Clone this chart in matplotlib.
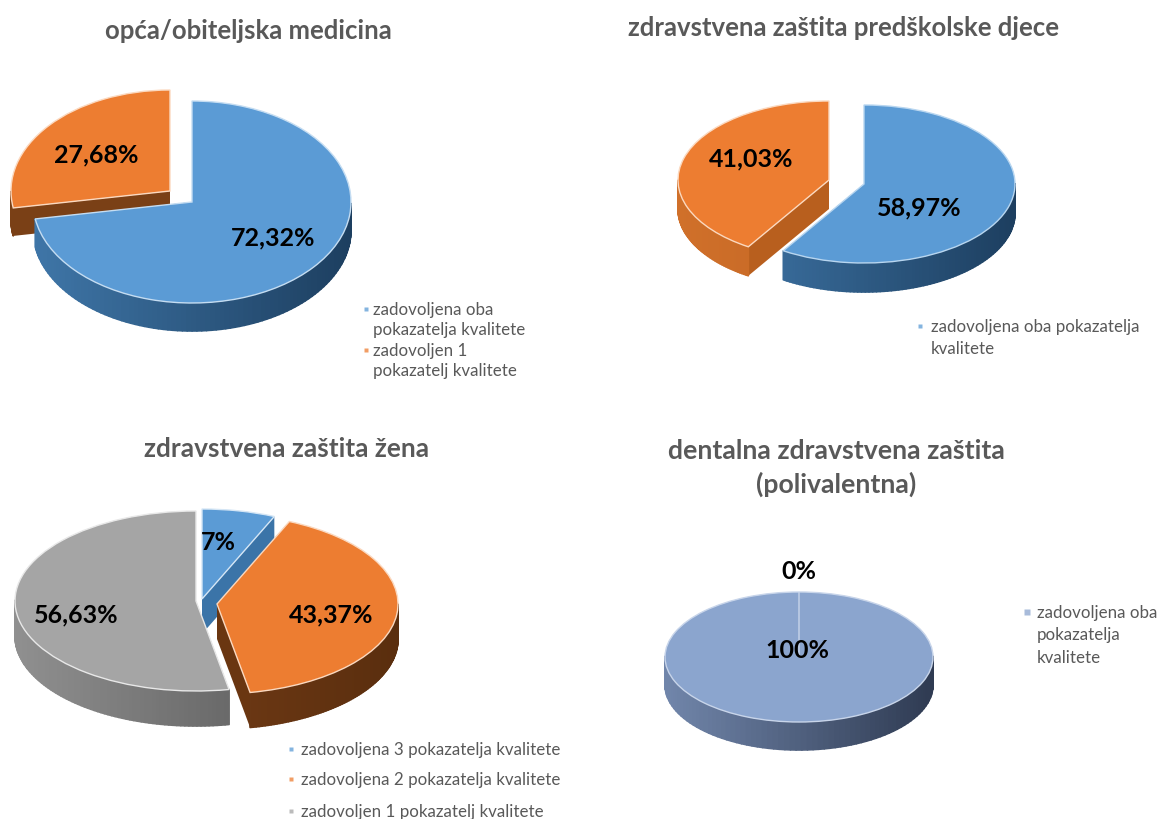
import numpy as np
import matplotlib
matplotlib.use("Agg")
import matplotlib.pyplot as plt
from matplotlib.collections import PolyCollection
from matplotlib.colors import LinearSegmentedColormap

# ---------- data ----------
titles = ["opća/obiteljska medicina", "zdravstvena zaštita predškolske djece",
          "zdravstvena zaštita žena", "dentalna zdravstvena zaštita\n(polivalentna)"]
opca_values = [72.32, 27.68]
opca_labels = ["72,32%", "27,68%"]
opca_legend = ["zadovoljena oba\npokazatelja kvalitete", "zadovoljen 1\npokazatelj kvalitete"]
predskolska_values = [58.97, 41.03]
predskolska_labels = ["58,97%", "41,03%"]
predskolska_legend = ["zadovoljena oba pokazatelja\nkvalitete"]
zene_values = [7, 43.37, 56.63]
zene_labels = ["7%", "43,37%", "56,63%"]
zene_legend = ["zadovoljena 3 pokazatelja kvalitete", "zadovoljena 2 pokazatelja kvalitete",
               "zadovoljen 1 pokazatelj kvalitete"]
dentalna_values = [100, 0]
dentalna_labels = ["100%", "0%"]
dentalna_legend = ["zadovoljena oba\npokazatelja\nkvalitete"]

# ---------- style ----------
W, H = 1163, 820
plt.rcParams["font.family"] = ["Lato", "DejaVu Sans"]
BLUE, ORANGE, GRAY, SLATE = "#5B9BD5", "#ED7D31", "#A5A5A5", "#8BA5CE"
TXT = "#595959"

pies = [
    dict(v=opca_values, cx=192, cy=203, rx=159, ry=101, d=28, order=[1, 0],
         colors=[BLUE, ORANGE], edge=["#C5DDF2", "#FBD9C0"], off=[(0, 0), (-22, -11)],
         wall=[("#3F76A8", "#1D3F60"), ("#7A4016", "#5A2E0E")], cut=["#2F5F8C", "#7A4016"]),
    dict(v=predskolska_values, cx=864, cy=185, rx=151, ry=79, d=29, order=[0, 1],
         colors=[BLUE, ORANGE], edge=["#B8D6F0", "#FBD9C0"], off=[(0, 0), (-35, -4)],
         wall=[("#3F76A8", "#1D3F60"), ("#D0702A", "#B85E1F")], cut=["#2F5F8C", "#B85F1E"]),
    dict(v=zene_values, cx=196, cy=602, rx=181, ry=90, d=35, order=[0, 2, 1],
         colors=[BLUE, ORANGE, GRAY], edge=["#D5E6F5", "#FBD9C0", "#E8E8E8"],
         off=[(6, -2), (21, 3), (0, 0)],
         wall=[("#3F76A8", "#1D3F60"), ("#80431A", "#5A2E0E"), ("#909090", "#4F4F4F")],
         cut=["#3B74A8", "#6A3611", "#707070"]),
    dict(v=dentalna_values, cx=799, cy=658, rx=134, ry=65, d=28, order=[0, 1],
         colors=[SLATE, SLATE], edge=["#C8D5EA", "#C8D5EA"], off=[(0, 0), (0, 0)],
         wall=[("#7186AB", "#2F3B52"), ("#7186AB", "#2F3B52")], cut=["#5A6E90", "#5A6E90"]),
]

fig = plt.figure(figsize=(W / 100, H / 100), dpi=100, facecolor="white")

for p in pies:
    cx, cy, rx, ry, d = p["cx"], p["cy"], p["rx"], p["ry"], p["d"]
    ax = fig.add_axes([(cx - rx) / W, 1 - (cy + ry) / H, 2 * rx / W, 2 * ry / H])
    wedges, _ = ax.pie(p["v"], startangle=90, counterclock=False, colors=p["colors"],
                       wedgeprops=dict(clip_on=False, linewidth=1.0))
    ax.set_aspect("auto")
    ax.set_xlim(-1, 1)
    ax.set_ylim(-1, 1)
    ax.axis("off")
    dz = d / ry
    for rank, i in enumerate(p["order"]):
        w = wedges[i]
        ox, oy = p["off"][i][0] / rx, -p["off"][i][1] / ry
        w.set_center((ox, oy))
        w.set_edgecolor(p["edge"][i])
        z = 10 + 10 * rank
        w.set_zorder(z + 3)
        t1, t2 = np.deg2rad(w.theta1), np.deg2rad(w.theta2)
        # radial cut faces
        if abs((w.theta2 - w.theta1) - 360) > 1e-6:
            for t in (t1, t2):
                px, py = ox + np.cos(t), oy + np.sin(t)
                face = [(ox, oy), (px, py), (px, py - dz), (ox, oy - dz)]
                ax.fill(*zip(*face), color=p["cut"][i], lw=0, zorder=z, clip_on=False)
        # outer wall, lower half only
        th = np.linspace(t1, t2, 150)
        cm = LinearSegmentedColormap.from_list("w", p["wall"][i])
        quads, cols = [], []
        for a, b in zip(th[:-1], th[1:]):
            if np.sin((a + b) / 2) > 0.0:
                continue
            xa, ya, xb, yb = ox + np.cos(a), oy + np.sin(a), ox + np.cos(b), oy + np.sin(b)
            quads.append([(xa, ya), (xb, yb), (xb, yb - dz), (xa, ya - dz)])
            cols.append(cm((np.cos((a + b) / 2) + 1) / 2))
        if quads:
            ax.add_collection(PolyCollection(quads, facecolors=cols, edgecolors=cols,
                                             linewidths=1.2, zorder=z + 1, clip_on=False),
                              autolim=False)

# ---------- text overlay in pixel coordinates ----------
ov = fig.add_axes([0, 0, 1, 1], zorder=100)
ov.set_xlim(0, W)
ov.set_ylim(H, 0)
ov.axis("off")
ov.patch.set_alpha(0)

title_pos = [(248, 31), (844, 28), (287, 449), (836, 468)]
title_sizes = [18.5, 18.5, 18.9, 19.2]
for t, (x, y), fs in zip(titles, title_pos, title_sizes):
    ov.text(x, y, t, ha="center", va="center", color=TXT, fontsize=fs, fontweight="bold",
            linespacing=1.38)

label_sets = [
    (opca_labels, [(273, 238), (96, 155)]),
    (predskolska_labels, [(919, 208), (751, 159)]),
    (zene_labels, [(218, 543), (331, 615), (76, 615)]),
    (dentalna_labels, [(797, 651), (799, 572)]),
]
for labs, pos in label_sets:
    for s, (x, y) in zip(labs, pos):
        ov.text(x, y, s, ha="center", va="center", color="black", fontsize=18, fontweight="bold")

legend_sets = [
    (opca_legend, [BLUE, ORANGE], 373, 366, [310, 351], 20.5, 3),
    (predskolska_legend, [BLUE], 931, 920, [327], 22, 3),
    (zene_legend, [BLUE, ORANGE, GRAY], 301, 291, [750, 780, 812], 0, 3),
    (dentalna_legend, [SLATE], 1037, 1027, [613], 22.5, 5),
]
for texts, cols, tx, mx, ys, step, ms in legend_sets:
    for s, c, y in zip(texts, cols, ys):
        ov.plot([mx], [y], marker="s", ms=ms, color=c, mec="none", alpha=0.75, clip_on=False)
        for k, line in enumerate(s.split("\n")):
            ov.text(tx, y + k * step, line, ha="left", va="center", color=TXT, fontsize=12.2)

fig.savefig("out.png", dpi=100, facecolor="white")
